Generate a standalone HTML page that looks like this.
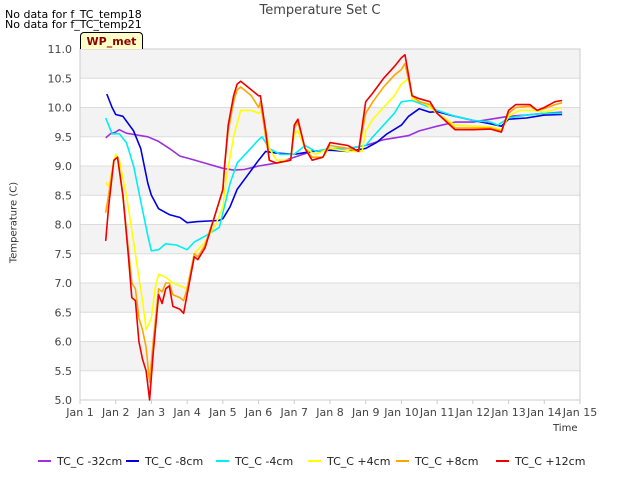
<!DOCTYPE html>
<html><head><meta charset="utf-8"><style>
body{margin:0;background:#fff;font-family:"DejaVu Sans",sans-serif}
</style></head><body>
<svg id="c" width="640" height="480" xmlns="http://www.w3.org/2000/svg" font-family="DejaVu Sans, sans-serif"></svg>
<script>
const yTicks=[5.0,5.5,6.0,6.5,7.0,7.5,8.0,8.5,9.0,9.5,10.0,10.5,11.0];
const xTickLabels=["Jan 1","Jan 2","Jan 3","Jan 4","Jan 5","Jan 6","Jan 7","Jan 8","Jan 9","Jan 10","Jan 11","Jan 12","Jan 13","Jan 14","Jan 15"];
const seriesNames=["TC_C -32cm","TC_C -8cm","TC_C -4cm","TC_C +4cm","TC_C +8cm","TC_C +12cm"];
const seriesColors=["#9b30e0","#0000e0","#00f0f0","#ffff00","#ffa500","#ee0000"];
const s32=[[1.72,9.48],[1.85,9.55],[2.0,9.58],[2.1,9.62],[2.3,9.56],[2.6,9.53],[2.9,9.5],[3.2,9.42],[3.5,9.3],[3.8,9.17],[4.1,9.12],[4.5,9.05],[5.0,8.96],[5.3,8.93],[5.6,8.94],[6.0,9.0],[6.5,9.05],[7.0,9.15],[7.5,9.25],[8.0,9.28],[8.5,9.3],[9.0,9.35],[9.5,9.45],[10.0,9.5],[10.2,9.52],[10.5,9.6],[11.0,9.68],[11.5,9.75],[12.0,9.75],[12.5,9.8],[13.0,9.85],[13.5,9.87],[14.0,9.9],[14.5,9.92]];
const sm8=[[1.75,10.23],[1.9,10.0],[2.0,9.88],[2.2,9.85],[2.5,9.6],[2.7,9.3],[2.9,8.7],[3.0,8.5],[3.2,8.27],[3.5,8.17],[3.8,8.12],[4.0,8.03],[4.3,8.05],[4.6,8.06],[4.9,8.07],[5.0,8.1],[5.2,8.3],[5.4,8.6],[5.7,8.85],[6.0,9.1],[6.2,9.25],[6.5,9.22],[7.0,9.2],[7.5,9.25],[8.0,9.27],[8.5,9.25],[9.0,9.3],[9.3,9.4],[9.6,9.55],[10.0,9.7],[10.2,9.85],[10.5,9.98],[10.8,9.92],[11.0,9.93],[11.5,9.85],[12.0,9.78],[12.5,9.72],[12.8,9.68],[13.0,9.8],[13.5,9.82],[14.0,9.87],[14.5,9.88]];
const sm4=[[1.72,9.82],[1.8,9.7],[1.9,9.55],[2.1,9.55],[2.3,9.4],[2.5,9.0],[2.7,8.4],[2.9,7.8],[3.0,7.55],[3.2,7.57],[3.4,7.67],[3.7,7.65],[4.0,7.57],[4.2,7.7],[4.5,7.8],[4.9,7.95],[5.0,8.2],[5.2,8.7],[5.4,9.05],[5.7,9.25],[6.0,9.45],[6.1,9.5],[6.3,9.3],[6.6,9.2],[7.0,9.2],[7.3,9.35],[7.6,9.25],[8.0,9.3],[8.5,9.3],[9.0,9.35],[9.2,9.5],[9.5,9.7],[9.8,9.9],[10.0,10.1],[10.3,10.12],[10.6,10.05],[11.0,9.95],[11.5,9.85],[12.0,9.78],[12.5,9.75],[12.7,9.7],[13.0,9.82],[13.5,9.87],[14.0,9.9],[14.5,9.9]];
const sp4=[[1.72,8.72],[1.8,8.65],[2.0,9.2],[2.1,9.1],[2.3,8.5],[2.5,7.7],[2.6,7.3],[2.75,6.7],[2.85,6.2],[3.0,6.4],[3.1,6.9],[3.2,7.15],[3.4,7.1],[3.6,7.0],[3.8,6.95],[4.0,6.9],[4.2,7.5],[4.5,7.7],[4.8,8.0],[5.0,8.3],[5.1,8.8],[5.3,9.5],[5.5,9.95],[5.8,9.95],[6.0,9.9],[6.1,9.95],[6.3,9.3],[6.5,9.1],[6.9,9.1],[7.0,9.55],[7.1,9.6],[7.3,9.3],[7.6,9.2],[8.0,9.3],[8.5,9.25],[8.9,9.25],[9.0,9.6],[9.2,9.8],[9.5,10.0],[9.8,10.2],[10.0,10.4],[10.2,10.5],[10.3,10.15],[10.7,10.05],[11.0,9.9],[11.5,9.7],[12.0,9.68],[12.5,9.67],[12.8,9.62],[13.0,9.85],[13.3,9.95],[13.7,9.95],[14.0,9.92],[14.5,10.0]];
const sp8=[[1.72,8.2],[1.8,8.5],[1.95,9.1],[2.05,9.15],[2.2,8.5],[2.35,7.6],[2.45,7.0],[2.55,6.9],[2.65,6.4],[2.75,6.2],[2.85,5.9],[2.95,5.3],[3.05,6.0],[3.2,6.9],[3.3,6.85],[3.4,7.0],[3.5,7.0],[3.6,6.8],[3.8,6.75],[3.9,6.7],[4.0,6.9],[4.2,7.5],[4.3,7.45],[4.5,7.65],[4.8,8.2],[5.0,8.6],[5.05,9.0],[5.15,9.6],[5.3,10.1],[5.4,10.3],[5.5,10.35],[5.8,10.2],[6.0,10.0],[6.05,10.1],[6.2,9.5],[6.3,9.1],[6.5,9.05],[6.9,9.1],[7.0,9.65],[7.1,9.75],[7.3,9.3],[7.5,9.15],[7.8,9.15],[8.0,9.35],[8.5,9.3],[8.8,9.25],[9.0,9.9],[9.2,10.1],[9.5,10.35],[9.8,10.55],[10.0,10.65],[10.1,10.75],[10.3,10.2],[10.5,10.1],[10.8,10.05],[11.0,9.9],[11.5,9.65],[12.0,9.65],[12.5,9.65],[12.8,9.6],[13.0,9.9],[13.2,10.0],[13.6,10.02],[13.8,9.95],[14.0,9.98],[14.3,10.05],[14.5,10.08]];
const sp12=[[1.72,7.72],[1.8,8.3],[1.95,9.1],[2.05,9.15],[2.2,8.5],[2.35,7.5],[2.45,6.75],[2.55,6.7],[2.65,6.0],[2.75,5.7],[2.85,5.5],[2.95,5.0],[3.05,5.8],[3.2,6.8],[3.3,6.65],[3.4,6.9],[3.5,6.95],[3.6,6.6],[3.8,6.55],[3.9,6.48],[4.0,6.8],[4.2,7.45],[4.3,7.4],[4.5,7.6],[4.8,8.2],[5.0,8.6],[5.05,9.0],[5.15,9.7],[5.3,10.2],[5.4,10.4],[5.5,10.45],[5.8,10.3],[6.0,10.2],[6.05,10.2],[6.2,9.6],[6.3,9.1],[6.5,9.05],[6.9,9.1],[7.0,9.7],[7.1,9.8],[7.3,9.3],[7.5,9.1],[7.8,9.15],[8.0,9.4],[8.5,9.35],[8.8,9.25],[9.0,10.1],[9.2,10.25],[9.5,10.5],[9.8,10.7],[10.0,10.85],[10.1,10.9],[10.3,10.2],[10.5,10.15],[10.8,10.1],[11.0,9.9],[11.5,9.62],[12.0,9.62],[12.5,9.63],[12.8,9.58],[13.0,9.95],[13.2,10.05],[13.6,10.05],[13.8,9.95],[14.0,10.0],[14.3,10.1],[14.5,10.12]];
const allSeries=[s32,sm8,sm4,sp4,sp8,sp12];

const L=80,R=580,T=49,B=400;
const xs=d=>L+(d-1)*(R-L)/14;
const ys=v=>B-(v-5)*(B-T)/6;
const svg=document.getElementById('c');
const NS="http://www.w3.org/2000/svg";
function mk(tag,attrs,parent){const e=document.createElementNS(NS,tag);for(const k in attrs)e.setAttribute(k,attrs[k]);(parent||svg).appendChild(e);return e;}
const plot=mk('g',{});


for(let i=0;i<yTicks.length-1;i++){
  if(i%2===1){const b=mk('rect',{x:L,y:ys(yTicks[i+1]),width:R-L,height:ys(yTicks[i])-ys(yTicks[i+1]),fill:'#f3f3f3'},plot);
  
  }
}
yTicks.forEach(v=>{
  const g=mk('line',{x1:L,x2:R,y1:ys(v),y2:ys(v),stroke:'#dcdcdc','stroke-width':1},plot);
  
  
  const t=mk('text',{x:72,y:ys(v)+4,'text-anchor':'end','font-size':11,fill:'#444'});
  t.textContent=v.toFixed(1);
  
  
});
mk('rect',{x:L,y:T,width:R-L,height:B-T,fill:'none',stroke:'#ccc'},plot);
xTickLabels.forEach((lab,i)=>{
  const x=xs(i+1);
  mk('line',{x1:x,x2:x,y1:B,y2:B+4,stroke:'#ccc'});
  const t=mk('text',{x:x,y:416,'text-anchor':'middle','font-size':11,fill:'#444'});
  t.textContent=lab;
  
  
});
allSeries.forEach((s,i)=>{
  const p=mk('polyline',{points:s.map(q=>xs(q[0]).toFixed(1)+','+ys(q[1]).toFixed(1)).join(' '),fill:'none',stroke:seriesColors[i],'stroke-width':1.6,'stroke-linejoin':'round'},plot);
  
  
});
const lx=[38,126,216,308,396,496];
seriesNames.forEach((n,i)=>{
  const g=mk('g',{});
  
  
  mk('line',{x1:lx[i],x2:lx[i]+13,y1:461,y2:461,stroke:seriesColors[i],'stroke-width':2},g);
  const t=mk('text',{x:lx[i]+19,y:465,'font-size':11,fill:'#222'},g);
  t.textContent=n;
});
</script>
<div style="position:absolute;left:0;top:0;width:640px;height:480px;pointer-events:none">
<div style="position:absolute;left:0;width:640px;top:3px;text-align:center;font-size:13px;color:#444">Temperature Set C</div>
<div style="position:absolute;left:5px;top:8px;font-size:11px;color:#000">No data for f_TC_temp18</div>
<div style="position:absolute;left:5px;top:18px;font-size:11px;color:#000">No data for f_TC_temp21</div>
<div style="position:absolute;left:80px;top:32px;width:63px;height:17px;background:#ffffc8;border:1px solid #000;border-bottom:none;border-radius:4px 4px 0 0;box-sizing:border-box;text-align:center;font-size:11px;font-weight:bold;color:#8b0000;line-height:17px">WP_met</div>
<div style="position:absolute;left:-46px;top:217px;width:120px;text-align:center;font-size:10px;color:#333;transform:rotate(-90deg)">Temperature (C)</div>
<div style="position:absolute;left:553px;top:423px;font-size:10px;color:#333">Time</div>
</div>
</body></html>
